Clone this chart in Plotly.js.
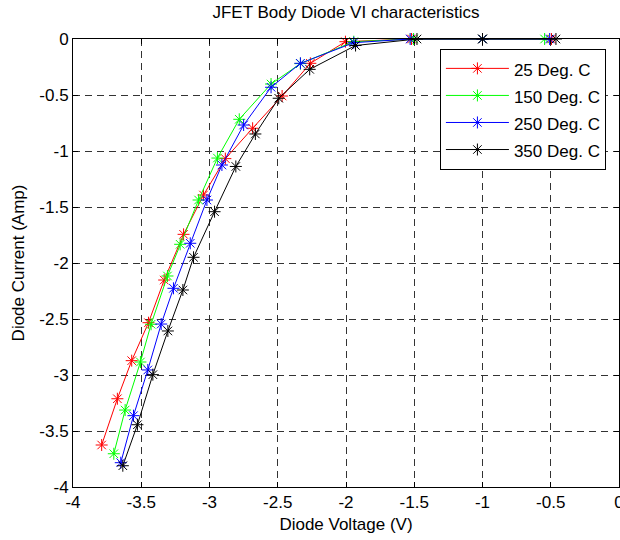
<!DOCTYPE html>
<html>
<head>
<meta charset="utf-8">
<script src="https://cdn.plot.ly/plotly-3.0.1.min.js"></script>
<style>html,body{margin:0;padding:0;background:#fff;}#chart{width:620px;height:540px;}</style>
</head>
<body>
<div id="chart"></div>
<script>
// Series names
const seriesNames = ['25 Deg. C', '150 Deg. C', '250 Deg. C', '350 Deg. C'];
const seriesColors = ['#ff0000', '#00ff00', '#0000ff', '#000000'];

// Diode voltage (V) and current (A) per temperature
const v25  = [-3.79, -3.675, -3.57, -3.447, -3.332, -3.19, -3.044, -2.884, -2.684, -2.468, -2.261, -2.004, -1.52, -1.0, -0.495];
const i25  = [-3.625, -3.212, -2.872, -2.533, -2.152, -1.744, -1.393, -1.068, -0.797, -0.509, -0.217, -0.024, 0, 0, 0];
const v150 = [-3.701, -3.618, -3.506, -3.428, -3.308, -3.215, -3.080, -2.942, -2.782, -2.549, -2.334, -1.943, -1.505, -1.0, -0.545];
const i150 = [-3.703, -3.313, -2.884, -2.547, -2.116, -1.833, -1.4375, -1.063, -0.717, -0.402, -0.22, -0.024, 0, 0, 0];
const v250 = [-3.650, -3.557, -3.452, -3.354, -3.264, -3.141, -3.019, -2.909, -2.750, -2.549, -2.334, -1.943, -1.53, -1.0, -0.508];
const i250 = [-3.783, -3.363, -2.955, -2.545, -2.226, -1.824, -1.4375, -1.125, -0.768, -0.431, -0.217, -0.033, 0, 0, 0];
const v350 = [-3.635, -3.528, -3.415, -3.305, -3.195, -3.117, -2.963, -2.807, -2.664, -2.493, -2.266, -1.930, -1.48, -1.0, -0.462];
const i350 = [-3.810, -3.444, -2.997, -2.607, -2.241, -1.949, -1.542, -1.138, -0.848, -0.529, -0.271, -0.058, 0, 0, 0];

// Tick values and labels
const tickVals = [-4, -3.5, -3, -2.5, -2, -1.5, -1, -0.5, 0];
const tickText = ['-4', '-3.5', '-3', '-2.5', '-2', '-1.5', '-1', '-0.5', '0'];

const xs = [v25, v150, v250, v350];
const ys = [i25, i150, i250, i350];

const FONT = 'Liberation Sans, Arial, Helvetica, sans-serif';

const traces = seriesNames.map((name, k) => ({
  type: 'scatter',
  mode: 'lines+markers',
  name: '<span style="font-size:17px">' + name + '</span>',
  x: xs[k],
  y: ys[k],
  line: {color: seriesColors[k], width: 1},
  marker: {symbol: 'asterisk-open', size: 10, color: seriesColors[k], line: {color: seriesColors[k], width: 1}},
  cliponaxis: false
}));

const axisCommon = {
  range: [-4, 0],
  tickmode: 'array',
  tickvals: tickVals,
  ticktext: tickText,
  ticks: 'inside',
  ticklen: 5,
  tickwidth: 1,
  tickcolor: '#000',
  showline: true,
  linecolor: '#000',
  linewidth: 1,
  mirror: 'ticks',
  showgrid: true,
  gridcolor: '#333',
  griddash: '7px,5px',
  gridwidth: 1,
  zeroline: false,
  ticklabeloverflow: 'allow',
  tickfont: {family: FONT, size: 17, color: '#000'},
  fixedrange: true
};

const layout = {
  width: 620,
  height: 540,
  margin: {l: 73, r: 1, t: 39, b: 53},
  paper_bgcolor: '#fff',
  plot_bgcolor: '#fff',
  font: {family: FONT, size: 17, color: '#000'},
  title: {
    text: 'JFET Body Diode VI characteristics',
    font: {family: FONT, size: 17, color: '#000'},
    x: 0.5, xref: 'paper', xanchor: 'center',
    y: 1 - 12 / 540, yref: 'container', yanchor: 'middle'
  },
  xaxis: Object.assign({}, axisCommon, {
    title: {text: 'Diode Voltage (V)', font: {family: FONT, size: 17, color: '#000'}, standoff: 6}
  }),
  yaxis: Object.assign({}, axisCommon, {
    title: {text: 'Diode Current (Amp)', font: {family: FONT, size: 17, color: '#000'}, standoff: 10}
  }),
  showlegend: true,
  legend: {
    x: 0.672, y: 0.978, xanchor: 'left', yanchor: 'top',
    bgcolor: '#fff',
    bordercolor: '#000',
    borderwidth: 1,
    font: {family: FONT, size: 18.5, color: '#000'},
    itemwidth: 63,
    tracegroupgap: 0
  }
};

Plotly.newPlot('chart', traces, layout, {staticPlot: true, displayModeBar: false});
</script>
</body>
</html>
